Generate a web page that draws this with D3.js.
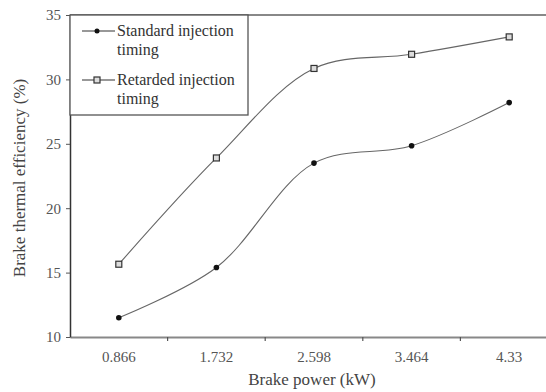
<!DOCTYPE html>
<html>
<head>
<meta charset="utf-8">
<script src="https://cdn.jsdelivr.net/npm/d3@7"></script>
<style>
  body { margin: 0; background: #fff; }
</style>
</head>
<body>
<div id="chart"></div>
<script>
// Data
const powers = ['0.866', '1.732', '2.598', '3.464', '4.33'];
const standardTiming = [11.5, 15.4, 23.5, 24.85, 28.2];
const retardedTiming = [15.65, 23.9, 30.85, 31.95, 33.3];
const yTicks = [10, 15, 20, 25, 30, 35];

const width = 546, height = 392;
const margin = { top: 15, right: -12, bottom: 55, left: 70 };
const serif = '"Liberation Serif", "Times New Roman", Times, Tinos, "DejaVu Serif", "Noto Serif", serif';

const svg = d3.select('#chart').append('svg')
  .attr('width', width)
  .attr('height', height)
  .style('font-family', serif);

// Scales
const x = d3.scaleBand()
  .domain(powers)
  .range([margin.left, width - margin.right]);

const y = d3.scaleLinear()
  .domain([10, 35])
  .range([height - margin.bottom, margin.top]);

// Plot frame top line
svg.append('line')
  .attr('x1', margin.left).attr('x2', width)
  .attr('y1', y(35)).attr('y2', y(35))
  .attr('stroke', '#888').attr('stroke-width', 2);

// Axes
const xAxis = svg.append('g')
  .attr('transform', `translate(0, ${y(10)})`)
  .call(d3.axisBottom(x).tickSize(0).tickPadding(14));
xAxis.attr('font-family', null);
xAxis.select('.domain').attr('stroke', '#888').attr('stroke-width', 2);
xAxis.selectAll('text').attr('font-size', 15).attr('fill', '#555')
  .style('font-family', serif);

// Tick marks between categories
svg.append('g')
  .selectAll('line')
  .data(powers.slice(1))
  .enter()
  .append('line')
  .attr('x1', d => x(d)).attr('x2', d => x(d))
  .attr('y1', y(10)).attr('y2', y(10) + 4)
  .attr('stroke', '#555').attr('stroke-width', 1.2);

const yAxis = svg.append('g')
  .attr('transform', `translate(${margin.left}, 0)`)
  .call(d3.axisLeft(y).tickValues(yTicks).tickSize(4).tickSizeOuter(0).tickPadding(5));
yAxis.attr('font-family', null);
yAxis.select('.domain').attr('stroke', '#333').attr('stroke-width', 1.5);
yAxis.selectAll('.tick line').attr('stroke', '#555');
yAxis.selectAll('text').attr('font-size', 15).attr('fill', '#555')
  .style('font-family', serif);

// Axis titles
svg.append('text')
  .attr('x', 312)
  .attr('y', 385)
  .attr('text-anchor', 'middle')
  .attr('font-size', 17)
  .attr('fill', '#444')
  .text('Brake power (kW)');

svg.append('text')
  .attr('transform', `translate(25, ${(y(10) + y(35)) / 2 + 2}) rotate(-90)`)
  .attr('text-anchor', 'middle')
  .attr('font-size', 17)
  .attr('fill', '#444')
  .text('Brake thermal efficiency (%)');

// Lines
const cx = d => x(d) + x.bandwidth() / 2;
const line = d3.line()
  .x(d => cx(d[0]))
  .y(d => y(d[1]))
  .curve(d3.curveCatmullRom.alpha(0.5));

const series = [
  { name: 'Standard', values: standardTiming, marker: 'circle' },
  { name: 'Retarded', values: retardedTiming, marker: 'square' }
];

series.forEach(s => {
  const pts = powers.map((p, i) => [p, s.values[i]]);
  svg.append('path')
    .datum(pts)
    .attr('fill', 'none')
    .attr('stroke', '#666')
    .attr('stroke-width', 1.1)
    .attr('d', line);

  if (s.marker === 'circle') {
    svg.selectAll(null)
      .data(pts)
      .enter()
      .append('circle')
      .attr('cx', d => cx(d[0]))
      .attr('cy', d => y(d[1]))
      .attr('r', 2.8)
      .attr('fill', '#111');
  } else {
    svg.selectAll(null)
      .data(pts)
      .enter()
      .append('rect')
      .attr('x', d => cx(d[0]) - 3)
      .attr('y', d => y(d[1]) - 3)
      .attr('width', 6)
      .attr('height', 6)
      .attr('fill', '#ddd')
      .attr('stroke', '#333')
      .attr('stroke-width', 1.2);
  }
});

// Legend
const legend = svg.append('g');
legend.append('rect')
  .attr('x', margin.left).attr('y', y(35))
  .attr('width', 178).attr('height', 100)
  .attr('fill', '#fff')
  .attr('stroke', '#555').attr('stroke-width', 1.3);

const legendItems = [
  { lines: ['Standard injection', 'timing'], marker: 'circle', y: 31 },
  { lines: ['Retarded injection', 'timing'], marker: 'square', y: 80 }
];

legendItems.forEach(item => {
  legend.append('line')
    .attr('x1', 82).attr('x2', 115)
    .attr('y1', item.y).attr('y2', item.y)
    .attr('stroke', '#333').attr('stroke-width', 1.2);
  if (item.marker === 'circle') {
    legend.append('circle')
      .attr('cx', 97).attr('cy', item.y).attr('r', 2.5).attr('fill', '#111');
  } else {
    legend.append('rect')
      .attr('x', 94).attr('y', item.y - 3)
      .attr('width', 6).attr('height', 6)
      .attr('fill', '#ddd').attr('stroke', '#333').attr('stroke-width', 1.2);
  }
  item.lines.forEach((t, i) => {
    legend.append('text')
      .attr('x', 117)
      .attr('y', item.y + 5 + i * 19)
      .attr('font-size', 16)
      .attr('fill', '#333')
      .text(t);
  });
});
</script>
</body>
</html>
